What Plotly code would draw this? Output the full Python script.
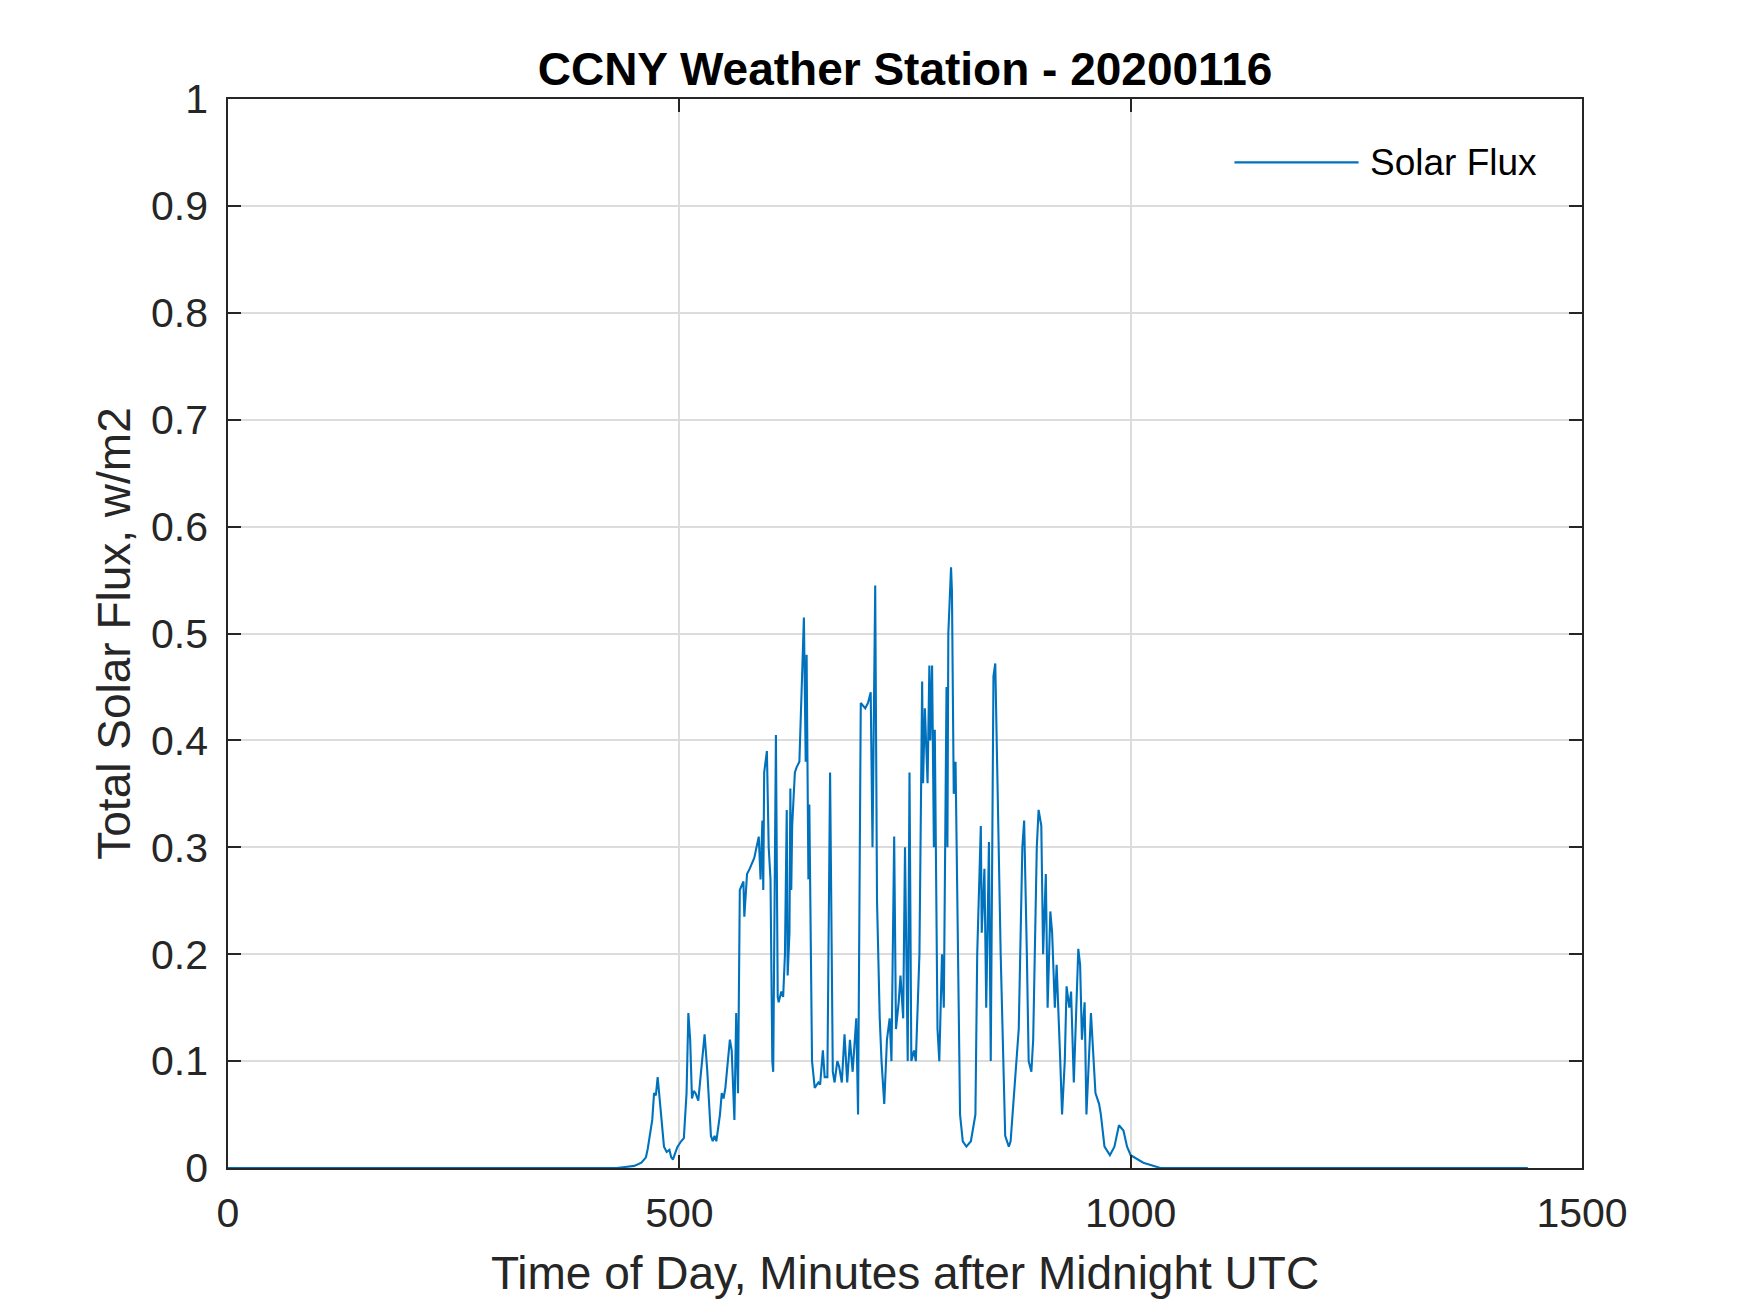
import plotly.graph_objects as go

minutes = [0, 430, 440, 450, 458, 463, 465, 468, 470, 472, 474, 476, 478, 480, 483, 486, 489, 491, 493, 495,
           498, 502, 505, 508, 510, 512, 514, 516, 518, 521, 524, 528, 531, 535, 537, 539, 541, 545, 547, 549,
           551, 554, 556, 558, 560, 561, 563, 565, 567, 569, 571, 572, 575, 578, 583, 588, 590, 592, 593, 594,
           597, 599, 601, 603, 604, 607, 609, 610, 613, 615, 617, 619, 620, 622, 623, 624, 625, 628, 630, 633,
           635, 638, 640, 641, 643, 644, 647, 650, 654, 656, 659, 661, 664, 667, 670, 672, 675, 677, 680, 683,
           686, 689, 692, 696, 698, 701, 706, 709, 712, 714, 717, 719, 722, 724, 727, 728, 730, 733, 735, 738,
           740, 743, 745, 748, 750, 753, 755, 757, 760, 762, 765, 766, 769, 770, 772, 775, 777, 778, 780, 782,
           783, 786, 788, 791, 793, 796, 797, 798, 801, 802, 804, 806, 808, 811, 814, 818, 823, 828, 830, 834,
           835, 838, 840, 843, 845, 848, 850, 854, 856, 861, 865, 867, 871, 874, 876, 880, 882, 885, 887, 890,
           892, 896, 898, 901, 903, 906, 908, 911, 913, 916, 918, 922, 924, 927, 929, 932, 934, 937, 942, 944,
           946, 949, 951, 956, 959, 961, 965, 967, 971, 977, 982, 987, 992, 996, 1000, 1014, 1033, 1440]

solar_flux = [0, 0, 0.001, 0.002, 0.005, 0.01, 0.018, 0.035, 0.045, 0.07, 0.068, 0.085, 0.065, 0.045, 0.02, 0.015, 0.017, 0.01, 0.008, 0.013,
              0.02, 0.025, 0.028, 0.07, 0.145, 0.12, 0.065, 0.072, 0.07, 0.063, 0.09, 0.125, 0.09, 0.03, 0.025, 0.03, 0.025, 0.05, 0.07, 0.065,
              0.075, 0.1, 0.12, 0.11, 0.06, 0.045, 0.145, 0.07, 0.26, 0.265, 0.268, 0.235, 0.275, 0.28, 0.29, 0.31, 0.27, 0.325, 0.26, 0.37,
              0.39, 0.3, 0.27, 0.1, 0.09, 0.405, 0.16, 0.155, 0.165, 0.16, 0.2, 0.335, 0.18, 0.22, 0.355, 0.26, 0.32, 0.37, 0.375, 0.38,
              0.44, 0.515, 0.38, 0.48, 0.27, 0.34, 0.1, 0.075, 0.08, 0.078, 0.11, 0.085, 0.085, 0.37, 0.09, 0.08, 0.1, 0.095, 0.08, 0.125,
              0.08, 0.12, 0.09, 0.14, 0.05, 0.435, 0.43, 0.435, 0.445, 0.3, 0.545, 0.25, 0.14, 0.1, 0.06, 0.085, 0.12, 0.14, 0.1, 0.31,
              0.13, 0.155, 0.18, 0.14, 0.3, 0.1, 0.37, 0.1, 0.11, 0.1, 0.19, 0.2, 0.455, 0.36, 0.43, 0.36, 0.47, 0.4, 0.47, 0.3,
              0.41, 0.13, 0.1, 0.2, 0.15, 0.45, 0.3, 0.5, 0.562, 0.54, 0.35, 0.38, 0.25, 0.05, 0.025, 0.02, 0.025, 0.05, 0.2, 0.32,
              0.22, 0.28, 0.15, 0.305, 0.1, 0.46, 0.472, 0.3, 0.2, 0.03, 0.02, 0.025, 0.07, 0.1, 0.13, 0.3, 0.325, 0.2, 0.1, 0.09,
              0.12, 0.3, 0.335, 0.32, 0.2, 0.275, 0.15, 0.24, 0.22, 0.15, 0.19, 0.1, 0.05, 0.1, 0.17, 0.15, 0.165, 0.08, 0.205, 0.19,
              0.12, 0.155, 0.05, 0.145, 0.1, 0.07, 0.06, 0.05, 0.02, 0.012, 0.02, 0.04, 0.035, 0.02, 0.012, 0.005, 0, 0]

x_ticks = [0, 500, 1000, 1500]
y_ticks = [0, 0.1, 0.2, 0.3, 0.4, 0.5, 0.6, 0.7, 0.8, 0.9, 1]
y_tick_labels = ["0", "0.1", "0.2", "0.3", "0.4", "0.5", "0.6", "0.7", "0.8", "0.9", "1"]

title_text = "CCNY Weather Station - 20200116"
x_label = "Time of Day, Minutes after Midnight UTC"
y_label = "Total Solar Flux, w/m2"
series_name = "Solar Flux"

LINE_COLOR = "#0072BD"
AX_COLOR = "#262626"
GRID_COLOR = "#dcdcdc"
FONT = "Liberation Sans, Arial, Helvetica, sans-serif"

fig = go.Figure()
fig.add_trace(go.Scatter(x=minutes, y=solar_flux, mode="lines", name=series_name,
                         line=dict(color=LINE_COLOR, width=2.1), showlegend=False))

# page body has an 8px default margin; size the figure to fit inside the window
W, H = 1742, 1305
L, T = 220, 91
PW, PH = 1354, 1069
R, B = W - L - PW, H - T - PH

axis_common = dict(showline=True, linecolor=AX_COLOR, linewidth=1.5, mirror="ticks",
                   ticks="inside", ticklen=13, tickwidth=1.5, tickcolor=AX_COLOR,
                   showgrid=True, gridcolor=GRID_COLOR, gridwidth=1.5, zeroline=False,
                   tickfont=dict(family=FONT, size=41, color=AX_COLOR))

fig.update_layout(
    width=W, height=H,
    margin=dict(l=L, r=R, t=T, b=B, autoexpand=False),
    paper_bgcolor="white", plot_bgcolor="white",
    title=dict(text="<b>" + title_text + "</b>", x=(L + PW / 2) / W, xanchor="center",
               y=1 - 61 / H, yanchor="middle", font=dict(family=FONT, size=46, color="black")),
    xaxis=dict(range=[0, 1500], tickmode="array", tickvals=x_ticks, ticktext=[str(v) for v in x_ticks],
               ticklabelstandoff=8,
               title=dict(text=x_label, font=dict(family=FONT, size=46, color=AX_COLOR), standoff=22),
               **axis_common),
    yaxis=dict(range=[0, 1], tickmode="array", tickvals=y_ticks, ticktext=y_tick_labels,
               ticklabelstandoff=10,
               title=dict(text=y_label, font=dict(family=FONT, size=46, color=AX_COLOR), standoff=6),
               **axis_common),
    showlegend=False,
)

# legend (sample line + label)
fig.add_shape(type="line", xref="paper", yref="paper", x0=0.7433, x1=0.835, y0=0.9407, y1=0.9407,
              line=dict(color=LINE_COLOR, width=2.1))
fig.add_annotation(xref="paper", yref="paper", x=0.842, y=0.9407, xanchor="left", yanchor="middle",
                   text=series_name, showarrow=False, font=dict(family=FONT, size=37, color="black"))

fig.write_html("out.html")
